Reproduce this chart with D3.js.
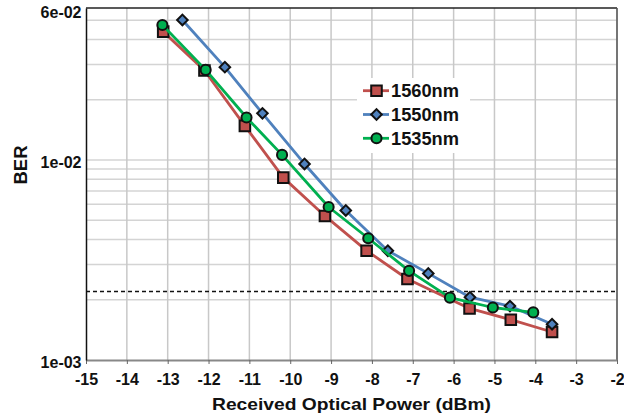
<!DOCTYPE html>
<html>
<head>
<meta charset="utf-8">
<script src="https://cdn.jsdelivr.net/npm/d3@7"></script>
<style>
  html, body { margin: 0; padding: 0; background: #fff; }
  svg { display: block; }
  text { font-family: "Liberation Sans", Arial, sans-serif; font-weight: bold; fill: #111; }
</style>
</head>
<body>
<svg id="chart" width="624" height="416"></svg>
<script>
// Received optical power (dBm) and measured BER per wavelength
const power1560 = [-13.11, -12.10, -11.11, -10.17, -9.15, -8.13, -7.13, -5.61, -4.60, -3.59];
const ber1560   = [0.0438, 0.0280, 0.0148, 0.00816, 0.00525, 0.00352, 0.00254, 0.00181, 0.00159, 0.00138];
const power1550 = [-12.64, -11.60, -10.68, -9.65, -8.64, -7.61, -6.62, -5.60, -4.62, -3.59];
const ber1550   = [0.0501, 0.0291, 0.0171, 0.00955, 0.00559, 0.00352, 0.00271, 0.00206, 0.00186, 0.00151];
const power1535 = [-13.13, -12.07, -11.07, -10.20, -9.06, -8.09, -7.09, -6.09, -5.04, -4.05];
const ber1535   = [0.0473, 0.0282, 0.0163, 0.0106, 0.00582, 0.00406, 0.00279, 0.00205, 0.00183, 0.00173];

const seriesNames = ["1560nm", "1550nm", "1535nm"];
const xTicks = d3.range(-15, -1, 1);
const yTickValues = [0.001, 0.01, 0.0575];
const berThreshold = 0.0022;

const series = [
  { name: seriesNames[0], x: power1560, y: ber1560, color: "#c0504d", fill: "#c0504d", shape: "square" },
  { name: seriesNames[1], x: power1550, y: ber1550, color: "#4f81bd", fill: "#4f81bd", shape: "diamond" },
  { name: seriesNames[2], x: power1535, y: ber1535, color: "#00b050", fill: "#00b050", shape: "circle" }
];

const svg = d3.select("#chart");
const plot = { left: 86, right: 617, top: 8, bottom: 360 };

const x = d3.scaleLinear().domain([-15, -2]).range([plot.left, plot.right]);
const y = d3.scaleLog().domain([0.001, 0.0575]).range([plot.bottom, plot.top]);

// minor/major horizontal grid lines
const hGrid = [];
[0.001, 0.01].forEach(dec => { for (let m = 1; m <= 9; m++) { const v = dec * m; if (v > 0.001 && v < 0.0575) hGrid.push(v); } });
svg.append("g").selectAll("line").data(hGrid).join("line")
  .attr("x1", plot.left).attr("x2", plot.right)
  .attr("y1", d => y(d)).attr("y2", d => y(d))
  .attr("stroke", "#d4d4d4").attr("stroke-width", 1.5);

// vertical grid lines
svg.append("g").selectAll("line").data(xTicks.filter(d => d > -15)).join("line")
  .attr("x1", d => x(d)).attr("x2", d => x(d))
  .attr("y1", plot.top).attr("y2", plot.bottom)
  .attr("stroke", "#c8c8c8").attr("stroke-width", 1.5);

// frame
svg.append("line").attr("x1", plot.left).attr("x2", plot.right).attr("y1", plot.top).attr("y2", plot.top)
  .attr("stroke", "#222").attr("stroke-width", 1.5);
svg.append("line").attr("x1", plot.right).attr("x2", plot.right).attr("y1", plot.top).attr("y2", plot.bottom)
  .attr("stroke", "#555").attr("stroke-width", 1.5);

// threshold line
svg.append("line")
  .attr("x1", plot.left).attr("x2", plot.right)
  .attr("y1", y(berThreshold)).attr("y2", y(berThreshold))
  .attr("stroke", "#111").attr("stroke-width", 1.3).attr("stroke-dasharray", "4,3");

// x axis
const xAxis = svg.append("g").attr("transform", `translate(0,${plot.bottom})`)
  .call(d3.axisBottom(x).tickValues(xTicks).tickFormat(d => String(d)).tickSize(4).tickPadding(9.5).tickSizeOuter(0));
xAxis.select(".domain").attr("stroke", "#888").attr("stroke-width", 2);
xAxis.selectAll(".tick line").attr("stroke", "#666").attr("stroke-width", 1);
xAxis.selectAll("text").attr("font-size", 16).attr("fill", "#111")
  .style("font-family", '"Liberation Sans", Arial, sans-serif').style("font-weight", "bold");

// y axis
const fmtExp = v => {
  const [m, e] = v.toExponential(0).split("e");
  const n = +e;
  return m + "e" + (n < 0 ? "-" : "+") + String(Math.abs(n)).padStart(2, "0");
};
const yAxis = svg.append("g").attr("transform", `translate(${plot.left},0)`)
  .call(d3.axisLeft(y).tickValues(yTickValues).tickFormat(fmtExp).tickSize(0).tickPadding(4.5).tickSizeOuter(0));
yAxis.select(".domain").attr("stroke", "#111").attr("stroke-width", 1.5);
yAxis.selectAll("text").attr("font-size", 16).attr("dy", "0.45em").attr("fill", "#111")
  .style("font-family", '"Liberation Sans", Arial, sans-serif').style("font-weight", "bold");
yAxis.selectAll(".tick").filter(d => d === yTickValues[yTickValues.length - 1])
  .select("text").attr("dy", "0.62em");

// axis titles
svg.append("text").attr("x", (plot.left + plot.right) / 2).attr("y", 409.5)
  .attr("text-anchor", "middle").attr("font-size", 16.5)
  .attr("textLength", 279).attr("lengthAdjust", "spacingAndGlyphs")
  .text("Received Optical Power (dBm)");
svg.append("text").attr("transform", "translate(26.5,165) rotate(-90)")
  .attr("text-anchor", "middle").attr("font-size", 18.5)
  .text("BER");

// marker glyphs
function marker(sel, shape) {
  if (shape === "square") sel.attr("d", d3.symbol(d3.symbolSquare, 112)());
  else if (shape === "diamond") sel.attr("d", d3.symbol(d3.symbolSquare, 56)());
  else sel.attr("d", d3.symbol(d3.symbolCircle, 80)());
}

const line = d3.line().x(d => x(d[0])).y(d => y(d[1]));

series.forEach(s => {
  const pts = s.x.map((v, i) => [v, s.y[i]]);
  const g = svg.append("g");
  g.append("path").attr("d", line(pts))
    .attr("fill", "none").attr("stroke", s.color).attr("stroke-width", 2.8)
    .attr("stroke-linejoin", "round");
  g.selectAll("path.m").data(pts).join("path").attr("class", "m")
    .call(marker, s.shape)
    .attr("transform", d => `translate(${x(d[0])},${y(d[1])})` + (s.shape === "diamond" ? " rotate(45)" : ""))
    .attr("fill", s.fill).attr("stroke", "#111").attr("stroke-width", 2);
});

// legend
const lg = svg.append("g");
lg.append("rect").attr("x", 357).attr("y", 78).attr("width", 113).attr("height", 75).attr("fill", "#fff");
series.forEach((s, i) => {
  const cy = 90.7 + i * 23.8;
  lg.append("line").attr("x1", 363).attr("x2", 389).attr("y1", cy).attr("y2", cy)
    .attr("stroke", s.color).attr("stroke-width", 2.8);
  lg.append("path").call(marker, s.shape)
    .attr("transform", `translate(376.5,${cy})` + (s.shape === "diamond" ? " rotate(45)" : ""))
    .attr("fill", s.fill).attr("stroke", "#111").attr("stroke-width", 2);
  lg.append("text").attr("x", 391).attr("y", cy + 6.5).attr("font-size", 18)
    .attr("textLength", 68).attr("lengthAdjust", "spacingAndGlyphs")
    .text(s.name);
});
</script>
</body>
</html>
